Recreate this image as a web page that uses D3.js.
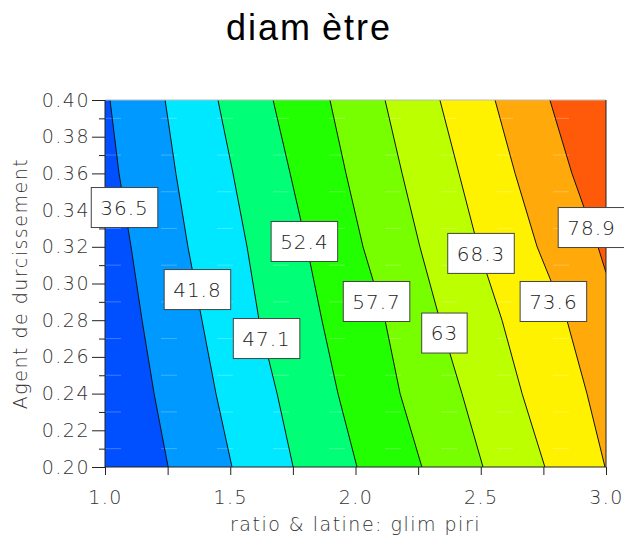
<!DOCTYPE html>
<html>
<head>
<meta charset="utf-8">
<script src="https://cdn.jsdelivr.net/npm/d3@7"></script>
<style>
  body { margin: 0; background: #fff; }
  text { font-family: "DejaVu Sans", sans-serif; font-weight: 200; }
  text.title { font-family: "Liberation Sans", Arial, sans-serif; font-weight: normal; }
</style>
</head>
<body>
<div id="chart"></div>
<script>
// contour levels and the colour of each band (last colour = above top level)
const levels = [36.5, 41.8, 47.1, 52.4, 57.7, 63, 68.3, 73.6, 78.9];
const bandColors = ['#0050ff', '#0099ff', '#00e8ff', '#00ff77', '#22ff00',
                    '#77ff00', '#bbff00', '#fff200', '#ffaa0a', '#ff5a0a'];

const rowY = [0.40, 0.36, 0.32, 0.28, 0.24, 0.20];
const line365X = [1.020, 1.056, 1.104, 1.148, 1.196, 1.252];
const line418X = [1.240, 1.283, 1.331, 1.387, 1.443, 1.507];
const line471X = [1.451, 1.511, 1.567, 1.615, 1.687, 1.751];
const line524X = [1.671, 1.739, 1.806, 1.866, 1.930, 2.006];
const line577X = [1.898, 1.962, 2.030, 2.118, 2.178, 2.265];
const line630X = [2.118, 2.186, 2.257, 2.337, 2.425, 2.509];
const line683X = [2.337, 2.413, 2.489, 2.585, 2.665, 2.756];
const line736X = [2.557, 2.637, 2.725, 2.844, 2.924, 2.996];
// the 78.9 line leaves through the right edge
const rowY789 = [0.40, 0.36, 0.32, 0.306];
const line789X = [2.776, 2.864, 2.968, 3.0];

// contour label positions
const labelX = [1.078, 1.369, 1.645, 1.796, 2.084, 2.355, 2.501, 2.790, 2.942];
const labelY = [0.3414, 0.2967, 0.2700, 0.3229, 0.2902, 0.2730, 0.3164, 0.2902, 0.3305];

const xTicks = [1.0, 1.5, 2.0, 2.5, 3.0];
const yTicks = [0.20, 0.22, 0.24, 0.26, 0.28, 0.30, 0.32, 0.34, 0.36, 0.38, 0.40];

const margin = { top: 100, right: 18, bottom: 75, left: 105 };
const W = 624, H = 542;
const width = W - margin.left - margin.right;
const height = H - margin.top - margin.bottom;

const svg = d3.select('#chart').append('svg')
    .attr('width', W)
    .attr('height', H);

const g = svg.append('g')
    .attr('transform', `translate(${margin.left},${margin.top})`);

const x = d3.scaleLinear().domain([1.0, 3.0]).range([0, width]);
const y = d3.scaleLinear().domain([0.20, 0.40]).range([height, 0]);

const lineXs = [line365X, line418X, line471X, line524X, line577X, line630X, line683X, line736X];
const contourLines = levels.map((lv, i) => {
    const xs = i < 8 ? lineXs[i] : line789X;
    const ys = i < 8 ? rowY : rowY789;
    return { level: lv, pts: xs.map((v, j) => [v, ys[j]]) };
});

g.append('clipPath').attr('id', 'plotclip')
    .append('rect').attr('width', width).attr('height', height);

const plot = g.append('g').attr('clip-path', 'url(#plotclip)');

// background = highest band
plot.append('rect')
    .attr('width', width)
    .attr('height', height)
    .attr('fill', bandColors[bandColors.length - 1]);

// fill the area left of each line, highest first
const area = d3.line().x(d => x(d[0])).y(d => y(d[1]));
contourLines.slice().reverse().forEach(c => {
    const i = levels.indexOf(c.level);
    const poly = c.pts.slice();
    const last = poly[poly.length - 1];
    if (last[1] > 0.20) poly.push([3.0, 0.20]);
    poly.push([1.0, 0.20], [1.0, 0.40]);
    plot.append('path')
        .attr('d', area(poly) + 'Z')
        .attr('fill', bandColors[i]);
});

// faint white grid dashes
plot.selectAll('.grid')
    .data(d3.range(0.21, 0.40, 0.02))
    .join('line')
    .attr('class', 'grid')
    .attr('x1', 0).attr('x2', width)
    .attr('y1', d => y(d)).attr('y2', d => y(d))
    .attr('stroke', '#fff')
    .attr('stroke-opacity', 0.25)
    .attr('stroke-dasharray', '16,40');

plot.selectAll('.cline')
    .data(contourLines)
    .join('path')
    .attr('class', 'cline')
    .attr('d', d => area(d.pts))
    .attr('fill', 'none')
    .attr('stroke', '#111')
    .attr('stroke-width', 1);

// plot frame
g.append('line').attr('x1', 0).attr('x2', width).attr('y1', 0).attr('y2', 0)
    .attr('stroke', '#bbb');
g.append('line').attr('x1', width).attr('x2', width).attr('y1', 0).attr('y2', height)
    .attr('stroke', '#222');

// axes
const minorY = d3.range(0.21, 0.40, 0.02);
g.append('g')
    .call(d3.axisLeft(y).tickValues(minorY).tickSize(6).tickFormat(''))
    .call(a => a.select('.domain').remove());
const yAxis = g.append('g')
    .call(d3.axisLeft(y).tickValues(yTicks).tickSize(13).tickPadding(2).tickFormat(d3.format('.2f')));
yAxis.selectAll('text')
    .attr('font-size', 19).attr('fill', '#333').attr('letter-spacing', 1.5);
yAxis.select('.domain').attr('d', `M0,0V${height}`).attr('stroke', '#222');

const minorX = [1.25, 1.75, 2.25, 2.75];
g.append('g')
    .attr('transform', `translate(0,${height})`)
    .call(d3.axisBottom(x).tickValues(minorX).tickSize(8).tickFormat(''))
    .call(a => a.select('.domain').remove());
const xAxis = g.append('g')
    .attr('transform', `translate(0,${height})`)
    .call(d3.axisBottom(x).tickValues(xTicks).tickSize(8).tickPadding(16).tickFormat(d3.format('.1f')));
xAxis.selectAll('text')
    .attr('font-size', 19).attr('fill', '#333').attr('letter-spacing', 1.5);
xAxis.select('.domain').attr('d', `M0,0H${width}`).attr('stroke', '#222');

g.selectAll('.tick line').attr('stroke', '#222');

// contour labels
const labels = g.selectAll('.clabel')
    .data(levels)
    .join('g')
    .attr('class', 'clabel')
    .attr('transform', (d, i) => `translate(${x(labelX[i])},${y(labelY[i])})`);
labels.append('rect');
labels.append('text')
    .attr('text-anchor', 'middle')
    .attr('dy', '0.36em')
    .attr('font-size', 20)
    .attr('letter-spacing', 1)
    .attr('fill', '#222')
    .text(d => d);
labels.each(function () {
    const b = d3.select(this).select('text').node().getBBox();
    d3.select(this).select('rect')
        .attr('x', -(b.width + 18) / 2)
        .attr('y', -20)
        .attr('width', b.width + 18)
        .attr('height', 40)
        .attr('fill', '#fff')
        .attr('stroke', '#444')
        .attr('stroke-width', 1);
});

// titles
const title = svg.append('text')
    .attr('class', 'title')
    .attr('x', 309)
    .attr('y', 40)
    .attr('text-anchor', 'middle')
    .attr('font-size', 36)
    .attr('letter-spacing', 2)
    .attr('fill', '#000');
title.append('tspan').text('diam');
title.append('tspan').attr('dx', 10).text('ètre');

svg.append('text')
    .attr('x', margin.left + width / 2)
    .attr('y', 531)
    .attr('text-anchor', 'middle')
    .attr('font-size', 19)
    .attr('letter-spacing', 1.5)
    .attr('fill', '#333')
    .text('ratio & latine: glim piri');

svg.append('text')
    .attr('transform', `translate(27,${margin.top + height / 2}) rotate(-90)`)
    .attr('text-anchor', 'middle')
    .attr('font-size', 19)
    .attr('letter-spacing', 1.5)
    .attr('fill', '#333')
    .text('Agent de durcissement');
</script>
</body>
</html>
